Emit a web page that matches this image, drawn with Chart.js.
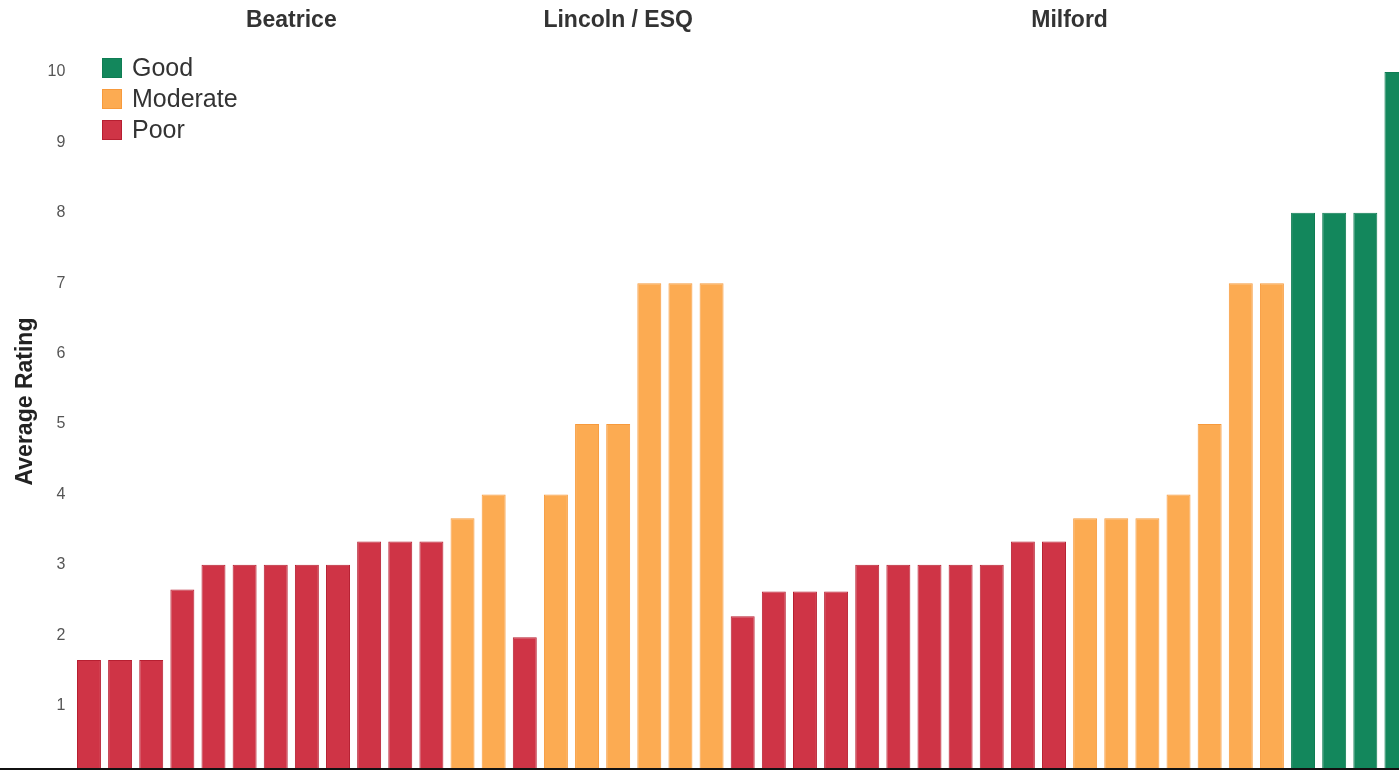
<!DOCTYPE html>
<html>
<head>
<meta charset="utf-8">
<title>Average Rating by Site</title>
<script src="https://cdn.jsdelivr.net/npm/chart.js@4.4.0/dist/chart.umd.min.js"></script>
<style>
  html, body { margin: 0; padding: 0; background: #fff; overflow: hidden; }
  #wrap { width: 1399px; height: 773px; overflow: hidden; position: relative; }
  canvas { display: block; }
</style>
</head>
<body>
<div id="wrap"><canvas id="chart" width="1412" height="773"></canvas></div>
<script>
// ---- data ----
const categories = [
  '1', '2', '3', '4', '5', '6', '7', '8', '9', '10',
  '11', '12', '13', '14', '15', '16', '17', '18', '19', '20',
  '21', '22', '23', '24', '25', '26', '27', '28', '29', '30',
  '31', '32', '33', '34', '35', '36', '37', '38', '39', '40',
  '41', '42', '43'
];

const ratings = [
  1.65, 1.65, 1.65, 2.65, 3, 3, 3, 3, 3, 3.33,
  3.33, 3.33, 3.66, 4, 1.97, 4, 5, 5, 7, 7,
  7, 2.27, 2.62, 2.62, 2.62, 3, 3, 3, 3, 3,
  3.33, 3.33, 3.66, 3.66, 3.66, 4, 5, 7, 7, 8,
  8, 8, 10
];

const ratingClass = [
  'Poor', 'Poor', 'Poor', 'Poor', 'Poor', 'Poor', 'Poor', 'Poor', 'Poor', 'Poor',
  'Poor', 'Poor', 'Moderate', 'Moderate', 'Poor', 'Moderate', 'Moderate', 'Moderate', 'Moderate', 'Moderate',
  'Moderate', 'Poor', 'Poor', 'Poor', 'Poor', 'Poor', 'Poor', 'Poor', 'Poor', 'Poor',
  'Poor', 'Poor', 'Moderate', 'Moderate', 'Moderate', 'Moderate', 'Moderate', 'Moderate', 'Moderate', 'Good',
  'Good', 'Good', 'Good'
];

const legendItems = ['Good', 'Moderate', 'Poor'];

const siteNames = ['Beatrice', 'Lincoln / ESQ', 'Milford'];
// category position (index units) under which each site heading is centred
const siteCenters = [6.5, 17, 31.5];

const yTicks = [1, 2, 3, 4, 5, 6, 7, 8, 9, 10];

// ---- styling ----
const FONT = "'Liberation Sans', Arial, Helvetica, sans-serif";
const fillColors = { Good: '#13875c', Moderate: '#fcab52', Poor: '#cf3446' };
const edgeColors = { Good: '#0f7d54', Moderate: '#f79a3c', Poor: '#b71f31' };

// site headings across the top
const siteHeadings = {
  id: 'siteHeadings',
  afterDraw(chart) {
    const xs = chart.scales.x;
    const x0 = xs.getPixelForValue(0);
    const step = xs.getPixelForValue(1) - x0;
    const ctx = chart.ctx;
    ctx.save();
    ctx.font = 'bold 23px ' + FONT;
    ctx.fillStyle = '#333';
    ctx.textAlign = 'center';
    ctx.textBaseline = 'middle';
    siteNames.forEach((name, i) => {
      ctx.fillText(name, x0 + siteCenters[i] * step, 21);
    });
    ctx.restore();
  }
};

// legend drawn inside the plot, top-left
const boxLegend = {
  id: 'boxLegend',
  afterDraw(chart) {
    const ctx = chart.ctx;
    ctx.save();
    ctx.font = '25px ' + FONT;
    ctx.textAlign = 'left';
    ctx.textBaseline = 'middle';
    legendItems.forEach((name, i) => {
      const y = 58 + i * 31;
      ctx.fillStyle = fillColors[name];
      ctx.fillRect(102, y, 20, 20);
      ctx.strokeStyle = edgeColors[name];
      ctx.lineWidth = 1;
      ctx.strokeRect(102.5, y + 0.5, 19, 19);
      ctx.fillStyle = '#333';
      ctx.fillText(name, 132, y + 11);
    });
    ctx.restore();
  }
};

// heavy baseline running the full width
const baseline = {
  id: 'baseline',
  afterDatasetsDraw(chart) {
    const ctx = chart.ctx;
    ctx.save();
    ctx.fillStyle = '#111';
    ctx.fillRect(0, chart.chartArea.bottom - 1, chart.width, 2);
    ctx.restore();
  }
};

new Chart(document.getElementById('chart').getContext('2d'), {
  type: 'bar',
  data: {
    labels: categories,
    datasets: [{
      label: 'Average Rating',
      data: ratings,
      backgroundColor: ratingClass.map(c => fillColors[c]),
      borderColor: ratingClass.map(c => edgeColors[c]),
      borderWidth: 1,
      borderSkipped: 'start',
      barPercentage: 0.77,
      categoryPercentage: 1
    }]
  },
  options: {
    responsive: false,
    animation: false,
    devicePixelRatio: 1,
    layout: { padding: { top: 34, bottom: 4, left: 0, right: 0 } },
    plugins: {
      legend: { display: false },
      tooltip: { enabled: false }
    },
    scales: {
      x: { display: false },
      y: {
        min: 0.1,
        max: 10.54,
        afterFit(scale) {
          scale.width = 73.4;
          scale.paddingTop = 0;
          scale.paddingBottom = 0;
        },
        afterBuildTicks(scale) { scale.ticks = yTicks.map(v => ({ value: v })); },
        grid: { display: false, drawTicks: false },
        border: { display: false },
        ticks: {
          padding: 8,
          color: '#555',
          font: { size: 16, family: FONT }
        },
        title: {
          display: true,
          text: 'Average Rating',
          color: '#222',
          font: { size: 23, weight: 'bold', family: FONT },
          padding: { top: 12, bottom: 0 }
        }
      }
    }
  },
  plugins: [siteHeadings, boxLegend, baseline]
});
</script>
</body>
</html>
